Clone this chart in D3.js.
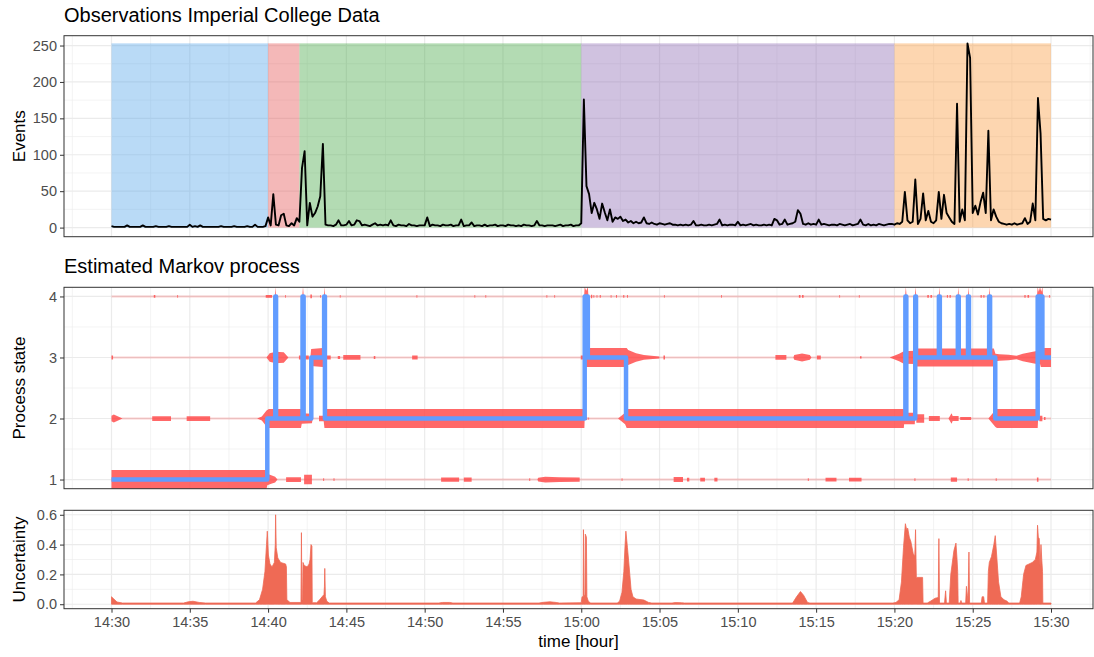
<!DOCTYPE html>
<html>
<head>
<meta charset="utf-8">
<script src="https://cdn.jsdelivr.net/npm/d3@7"></script>
<style>
  html, body { margin: 0; padding: 0; background: #ffffff; }
  svg { display: block; font-family: "Liberation Sans", Arial, Helvetica, sans-serif; }
</style>
</head>
<body>
<svg id="chart" width="1094" height="657"></svg>
<script>
// ---------------------------------------------------------------
// Session clock and axis labels
// ---------------------------------------------------------------
const sessionStart = "14:30";
const timeTickLabels = ["14:30","14:35","14:40","14:45","14:50","14:55","15:00",
                        "15:05","15:10","15:15","15:20","15:25","15:30"];
const eventTicks = [0, 50, 100, 150, 200, 250];
const stateTicks = [1, 2, 3, 4];
const uncertaintyTicks = [0, 0.2, 0.4, 0.6];

// Observation phases (clock boundaries)
const phaseBounds = ["14:30", "14:40", "14:42", "15:00", "15:20", "15:30"];

// Events counted in 10-second bins starting at 14:30
const eventBinSeconds = 10;
const eventCounts = [
  2,1,1,1,1,1,3,1,1,1,1,1,
  3,1,1,1,1,2,1,1,1,1,2,1,
  1,1,1,1,1,1,4,1,2,1,3,1,
  1,1,1,1,1,1,2,1,1,1,1,2,
  1,1,1,1,2,1,1,4,1,1,1,2,
  14,3,46,4,3,17,19,3,2,6,3,13,
  8,82,105,3,34,15,20,29,43,115,4,3,
  3,2,4,10,3,3,4,9,3,4,10,9,
  3,4,3,2,4,6,3,4,3,4,3,10,
  3,2,4,3,3,2,5,3,3,2,3,3,
  3,14,2,4,3,3,2,4,3,3,4,2,
  3,3,11,2,3,3,7,2,3,3,2,4,
  2,3,3,4,2,3,3,2,4,3,3,2,
  3,2,4,3,3,2,3,9,3,3,2,3,
  3,3,2,3,4,2,3,3,4,2,3,3,
  6,176,57,46,20,34,25,12,33,21,10,25,
  8,14,12,15,9,11,7,9,6,8,6,7,
  14,6,5,7,5,4,6,5,4,5,6,4,
  4,3,4,3,4,3,4,9,3,3,4,3,
  3,4,3,4,5,11,3,4,3,4,4,3,
  8,3,4,3,4,5,3,4,3,3,4,3,
  4,3,12,10,4,5,11,4,5,6,8,24,
  19,5,4,6,4,5,4,11,4,5,4,3,
  4,4,3,5,4,3,4,5,3,4,5,11,
  4,3,5,3,4,3,5,4,3,4,5,5,
  4,6,5,8,49,10,6,8,66,5,12,47,
  10,23,8,6,10,49,12,45,20,14,8,5,
  170,8,25,10,253,233,20,30,18,35,48,20,
  133,10,25,15,8,6,5,4,5,4,6,4,
  5,6,13,5,8,33,10,178,129,12,10,12,11
];

// Posterior state probabilities: [minutes after 14:30, probability]
const state1Prob = [
  [0,1],[9.9,1],[9.95,0.6],[10.2,0.45],[10.45,0.3],[10.6,0],
  [11.15,0],[11.15,0.25],[12.1,0.25],[12.1,0],
  [12.3,0],[12.3,0.5],[12.8,0.5],[12.8,0],
  [13.52,0],[13.52,0.15],[13.58,0.15],[13.58,0],
  [14.18,0],[14.18,0.15],[14.24,0.15],[14.24,0],
  [21.05,0],[21.05,0.22],[22.2,0.22],[22.2,0],
  [22.5,0],[22.5,0.22],[23.0,0.22],[23.0,0],
  [26.68,0],[26.68,0.15],[26.74,0.15],[26.74,0],
  [27.2,0],[27.25,0.2],[27.7,0.3],[28.6,0.25],[29.9,0.22],[29.9,0],
  [32.58,0],[32.58,0.15],[32.63,0.15],[32.63,0],
  [35.9,0],[35.9,0.27],[36.5,0.27],[36.5,0],
  [36.75,0],[36.75,0.2],[36.9,0.2],[36.9,0],
  [37.6,0],[37.6,0.2],[37.9,0.2],[37.9,0],
  [38.5,0],[38.5,0.2],[38.7,0.2],[38.7,0],
  [44.47,0],[44.47,0.15],[44.53,0.15],[44.53,0],
  [45.6,0],[45.6,0.2],[46.3,0.2],[46.3,0],
  [47.1,0],[47.1,0.2],[47.9,0.2],[47.9,0],
  [51.28,0],[51.28,0.15],[51.34,0.15],[51.34,0],
  [53.6,0],[53.6,0.22],[54.0,0.22],[54.0,0],
  [54.68,0],[54.68,0.15],[54.74,0.15],[54.74,0],
  [56.47,0],[56.47,0.15],[56.53,0.15],[56.53,0],
  [59.1,0],[59.1,0.22],[59.2,0.22],[59.2,0],[60,0]
];
const state2Prob = [
  [0,0.3],[0.15,0.42],[0.7,0],
  [2.6,0],[2.6,0.25],[3.8,0.25],[3.8,0],
  [4.8,0],[4.8,0.25],[6.3,0.25],[6.3,0],
  [9.3,0],[9.6,0.2],[9.9,0.85],[10.05,1],[12.1,1],[12.15,0.55],[12.8,0.5],[12.85,0],
  [13.25,0],[13.25,0.3],[13.55,0.3],[13.6,1],[30.2,1],[30.22,0],
  [30.3,0],[30.3,0.15],[30.38,0.15],[30.38,0],
  [30.45,0],[30.45,0.12],[30.5,0.12],[30.5,0],
  [32.35,0],[32.8,0.6],[32.9,1],[50.6,1],[50.62,0.6],[51.3,0.6],[51.32,0],
  [51.4,0],[51.4,0.45],[51.9,0.45],[51.9,0],
  [52.2,0],[52.2,0.27],[52.9,0.27],[52.9,0],
  [53.45,0],[53.65,0.55],[53.72,0.27],[54.1,0.27],[54.1,0],
  [54.2,0],[54.2,0.15],[54.9,0.15],[54.9,0],
  [56.0,0],[56.45,0.9],[56.55,1],[59.15,1],[59.18,0],
  [59.25,0],[59.25,0.3],[59.45,0.3],[59.45,0],
  [59.55,0],[59.55,0.15],[59.65,0.15],[59.65,0],[60,0]
];
const state3Prob = [
  [0,0.2],[0.1,0.2],[0.1,0],
  [9.9,0],[10.1,0.45],[10.5,0.6],[11.0,0.55],[11.3,0],
  [11.97,0],[11.97,0.2],[12.6,0.2],[12.6,0],
  [12.7,0],[12.75,0.9],[13.5,1],[13.6,0.6],[13.7,0.2],[14.0,0.2],[14.0,0],
  [14.45,0],[14.45,0.15],[14.6,0.15],[14.6,0],
  [14.8,0],[14.8,0.25],[15.9,0.25],[15.9,0],
  [16.75,0],[16.75,0.15],[16.85,0.15],[16.85,0],
  [19.2,0],[19.2,0.22],[19.55,0.22],[19.55,0],
  [29.97,0],[29.97,0.2],[30.15,0.2],[30.2,1],[32.9,1],[33.0,0.8],[33.5,0.45],[34.0,0.25],[34.97,0.1],[35.0,0],
  [35.25,0],[35.25,0.2],[35.35,0.2],[35.35,0],
  [42.4,0],[42.4,0.25],[43.1,0.25],[43.1,0],
  [43.55,0],[43.6,0.25],[44.1,0.42],[44.6,0.25],[44.7,0],
  [45.05,0],[45.05,0.2],[45.3,0.2],[45.3,0],
  [47.8,0],[47.8,0.12],[47.9,0.12],[47.9,0],
  [49.7,0],[50.3,0.4],[50.6,0.65],[51.35,0.7],[51.45,0.95],[56.35,0.95],[56.45,0.4],
  [56.7,0.35],[57.3,0.3],[57.8,0.18],[58.2,0.4],[59.0,0.65],[59.3,0.7],[59.35,1],[60,1]
];
const state4Prob = [
  [0,0],
  [2.7,0],[2.7,0.15],[2.8,0.15],[2.8,0],
  [4.2,0],[4.2,0.15],[4.25,0.15],[4.25,0],
  [9.85,0],[9.85,0.15],[10.25,0.15],[10.25,0],
  [10.44,0],[10.48,1],[10.52,0],
  [11.08,0],[11.08,0.15],[11.13,0.15],[11.13,0],
  [12.18,0],[12.23,1],[12.28,0],
  [12.7,0],[12.7,0.2],[12.8,0.2],[12.8,0],
  [13.33,0],[13.33,0.15],[13.38,0.15],[13.38,0],
  [13.56,0],[13.6,1],[13.64,0],
  [14.58,0],[14.58,0.15],[14.63,0.15],[14.63,0],
  [19.48,0],[19.48,0.15],[19.53,0.15],[19.53,0],
  [23.18,0],[23.18,0.15],[23.23,0.15],[23.23,0],
  [23.88,0],[23.88,0.15],[23.93,0.15],[23.93,0],
  [27.78,0],[27.78,0.15],[27.83,0.15],[27.83,0],
  [28.28,0],[28.28,0.15],[28.33,0.15],[28.33,0],
  [30.18,0],[30.22,1],[30.32,0.6],[30.42,1],[30.46,0],
  [30.62,0],[30.62,0.18],[30.7,0.18],[30.7,0],
  [30.78,0],[30.78,0.15],[30.83,0.15],[30.83,0],
  [30.98,0],[30.98,0.15],[31.03,0.15],[31.03,0],
  [31.18,0],[31.18,0.15],[31.25,0.15],[31.25,0],
  [31.88,0],[31.88,0.15],[31.93,0.15],[31.93,0],
  [32.22,0],[32.22,0.15],[32.28,0.15],[32.28,0],
  [32.68,0],[32.68,0.15],[32.75,0.15],[32.75,0],
  [32.92,0],[32.92,0.15],[32.98,0.15],[32.98,0],
  [35.28,0],[35.28,0.15],[35.33,0.15],[35.33,0],
  [38.93,0],[38.93,0.15],[38.98,0.15],[38.98,0],
  [43.9,0],[43.9,0.15],[44.0,0.15],[44.0,0],
  [44.1,0],[44.1,0.15],[44.2,0.15],[44.2,0],
  [46.48,0],[46.48,0.15],[46.53,0.15],[46.53,0],
  [47.73,0],[47.73,0.15],[47.78,0.15],[47.78,0],
  [50.68,0],[50.73,1],[50.78,0],
  [51.31,0],[51.35,1],[51.4,0],
  [52.1,0],[52.1,0.15],[52.2,0.15],[52.2,0],
  [52.3,0],[52.3,0.15],[52.4,0.15],[52.4,0],
  [52.83,0],[52.87,1],[52.91,0],
  [53.35,0],[53.35,0.15],[53.42,0.15],[53.42,0],
  [53.52,0],[53.52,0.15],[53.6,0.15],[53.6,0],
  [54.04,0],[54.08,1],[54.12,0],
  [54.69,0],[54.73,1],[54.77,0],
  [55.5,0],[55.5,0.15],[55.58,0.15],[55.58,0],
  [55.68,0],[55.68,0.15],[55.75,0.15],[55.75,0],
  [56.04,0],[56.08,1],[56.12,0],
  [58.3,0],[58.3,0.15],[58.38,0.15],[58.38,0],
  [58.5,0],[58.5,0.15],[58.6,0.15],[58.6,0],
  [59.1,0],[59.15,1],[59.22,0.5],[59.3,1],[59.38,0.5],[59.45,1],[59.5,0],
  [59.88,0],[59.88,0.15],[59.93,0.15],[59.93,0],
  [60,0]
];
const stateProbs = [state1Prob, state2Prob, state3Prob, state4Prob];

// Most likely state path: state entered at each change time (minutes after 14:30)
const pathMinutes = [0, 9.95, 10.46, 10.51, 12.2, 12.27, 12.76, 13.58, 13.63, 30.22, 30.42, 32.86,
                     50.7, 50.76, 51.33, 51.38, 52.84, 52.9, 54.05, 54.11, 54.7, 54.76, 56.05, 56.11,
                     56.44, 59.15, 59.27, 59.33, 59.45, 60];
const pathStates  = [1, 2, 4, 2, 4, 2, 3, 4, 2, 4, 3, 2,
                     4, 2, 4, 3, 4, 3, 4, 3, 4, 3, 4, 3,
                     2, 4, 3, 4, 3, 3];

// State uncertainty: [minutes after 14:30, value]
const uncertainty = [
  [0,0.05],[0.15,0.035],[0.35,0.015],[0.7,0.008],
  [4.6,0.008],[4.9,0.016],[5.2,0.02],[5.6,0.012],[6.0,0.008],
  [9.2,0.008],[9.45,0.03],[9.65,0.1],[9.8,0.22],[9.9,0.4],[9.95,0.49],[10.02,0.33],[10.12,0.27],
  [10.25,0.25],[10.4,0.28],[10.46,0.4],[10.48,0.6],[10.52,0.38],[10.62,0.31],[10.8,0.28],
  [11.12,0.27],[11.17,0.25],[11.2,0.03],[11.4,0.012],[12.1,0.012],
  [12.13,0.48],[12.16,0.03],[12.2,0.03],[12.23,0.28],[12.3,0.26],[12.5,0.25],[12.62,0.27],
  [12.68,0.3],[12.74,0.4],[12.8,0.39],[12.82,0.01],
  [13.1,0.01],[13.25,0.025],[13.45,0.05],[13.57,0.065],[13.6,0.12],[13.62,0.24],[13.66,0.05],
  [13.75,0.02],[13.9,0.008],
  [20.9,0.008],[21.15,0.012],[21.6,0.012],[21.8,0.008],
  [27.3,0.008],[27.6,0.013],[28.0,0.016],[28.4,0.012],[28.6,0.008],
  [30.0,0.01],[30.05,0.05],[30.12,0.05],[30.14,0.5],[30.18,0.06],[30.24,0.06],[30.26,0.47],
  [30.33,0.45],[30.36,0.05],[30.45,0.02],[30.6,0.008],
  [32.3,0.008],[32.45,0.02],[32.6,0.08],[32.72,0.22],[32.8,0.4],[32.85,0.49],[32.95,0.38],
  [33.06,0.25],[33.18,0.1],[33.3,0.05],[33.5,0.035],[34.0,0.028],[34.3,0.012],[34.5,0.008],
  [35.8,0.008],[36.0,0.011],[36.4,0.01],[36.6,0.008],
  [43.5,0.008],[43.75,0.05],[44.0,0.085],[44.2,0.06],[44.45,0.012],[44.6,0.008],
  [49.9,0.008],[50.1,0.012],[50.3,0.03],[50.45,0.15],[50.58,0.38],[50.7,0.54],[50.78,0.5],
  [50.85,0.51],[50.95,0.45],[51.05,0.42],[51.2,0.34],[51.3,0.32],[51.35,0.5],[51.4,0.18],
  [51.8,0.18],[51.83,0.008],
  [52.1,0.008],[52.3,0.02],[52.6,0.04],[52.8,0.045],[52.84,0.44],[52.88,0.008],
  [53.2,0.008],[53.27,0.09],[53.32,0.008],
  [53.5,0.008],[53.6,0.2],[53.8,0.36],[53.93,0.41],[54.0,0.3],[54.04,0.22],[54.07,0.008],
  [54.2,0.008],[54.25,0.025],[54.3,0.008],
  [54.55,0.008],[54.6,0.12],[54.66,0.06],[54.7,0.008],[54.76,0.35],[54.8,0.008],
  [55.55,0.008],[55.6,0.05],[55.7,0.05],[55.75,0.008],
  [55.95,0.008],[56.0,0.22],[56.06,0.28],[56.2,0.32],[56.35,0.4],[56.44,0.46],[56.55,0.3],
  [56.65,0.15],[56.8,0.05],[57.0,0.03],[57.2,0.02],[57.3,0.008],
  [58.0,0.008],[58.1,0.05],[58.25,0.2],[58.4,0.26],[58.6,0.27],[58.8,0.28],[59.0,0.3],
  [59.1,0.35],[59.14,0.53],[59.19,0.45],[59.25,0.44],[59.3,0.25],[59.36,0.4],[59.41,0.3],
  [59.46,0.22],[59.48,0.008],[60,0.008]
];

// ---------------------------------------------------------------
// Styling
// ---------------------------------------------------------------
const phaseColors = ["#50a2e8", "#e44e4e", "#41a541", "#8a66b2", "#fa983a"];
const phaseOpacity = 0.4;
const bandColor = "#ff4d4d";
const pathColor = "#619cff";
const uncertaintyColor = "#ef6a55";
const gridColor = "#ebebeb";
const borderColor = "#333333";
const tickTextColor = "#4d4d4d";
const bandHalfWidth = 0.155;   // in state units at probability 1

// ---------------------------------------------------------------
// Layout
// ---------------------------------------------------------------
const svg = d3.select("#chart");
const plotLeft = 64, plotRight = 1093;
const toMinutes = s => {
  const [h, m] = s.split(":").map(Number);
  const [h0, m0] = sessionStart.split(":").map(Number);
  return (h * 60 + m) - (h0 * 60 + m0);
};
const tickMinutes = timeTickLabels.map(toMinutes);
const x = d3.scaleLinear().domain([0, 60]).range([111.5, 1051]);

const xMinor = [];
for (let i = 0; i <= tickMinutes.length; i++) {
  const a = i === 0 ? tickMinutes[0] - 5 : tickMinutes[i - 1];
  const b = i === tickMinutes.length ? tickMinutes[i - 1] + 5 : tickMinutes[i];
  const m = (a + b) / 2;
  if (x(m) > plotLeft && x(m) < plotRight) xMinor.push(m);
}

const panels = {
  events: { top: 35.7, bottom: 236.7, domain: [-12.5, 263.5], ticks: eventTicks, fmt: d3.format("d"), label: "Events" },
  states: { top: 287.3, bottom: 488.7, domain: [0.85, 4.15], ticks: stateTicks, fmt: d3.format("d"), label: "Process state" },
  unc:    { top: 510.3, bottom: 608.7, domain: [-0.03, 0.63], ticks: uncertaintyTicks, fmt: d3.format(".1f"), label: "Uncertainty" }
};

const defs = svg.append("defs");

function setupPanel(key) {
  const p = panels[key];
  p.y = d3.scaleLinear().domain(p.domain).range([p.bottom, p.top]);
  defs.append("clipPath").attr("id", "clip-" + key)
    .append("rect")
    .attr("x", plotLeft).attr("y", p.top)
    .attr("width", plotRight - plotLeft).attr("height", p.bottom - p.top);

  const g = svg.append("g");
  g.append("rect")
    .attr("x", plotLeft).attr("y", p.top)
    .attr("width", plotRight - plotLeft).attr("height", p.bottom - p.top)
    .attr("fill", "#ffffff");

  // minor grid
  const yMinor = d3.pairs(p.ticks).map(([a, b]) => (a + b) / 2);
  g.selectAll(".yminor").data(yMinor).join("line")
    .attr("x1", plotLeft).attr("x2", plotRight)
    .attr("y1", d => p.y(d)).attr("y2", d => p.y(d))
    .attr("stroke", gridColor).attr("stroke-width", 0.6);
  g.selectAll(".xminor").data(xMinor).join("line")
    .attr("x1", d => x(d)).attr("x2", d => x(d))
    .attr("y1", p.top).attr("y2", p.bottom)
    .attr("stroke", gridColor).attr("stroke-width", 0.6);
  // major grid
  g.selectAll(".ymajor").data(p.ticks).join("line")
    .attr("x1", plotLeft).attr("x2", plotRight)
    .attr("y1", d => p.y(d)).attr("y2", d => p.y(d))
    .attr("stroke", gridColor).attr("stroke-width", 1.2);
  g.selectAll(".xmajor").data(tickMinutes).join("line")
    .attr("x1", d => x(d)).attr("x2", d => x(d))
    .attr("y1", p.top).attr("y2", p.bottom)
    .attr("stroke", gridColor).attr("stroke-width", 1.2);

  p.plot = g.append("g").attr("clip-path", `url(#clip-${key})`);
  return p;
}

function finishPanel(key) {
  const p = panels[key];
  const frame = svg.append("g");
  frame.append("rect")
    .attr("x", plotLeft).attr("y", p.top)
    .attr("width", plotRight - plotLeft).attr("height", p.bottom - p.top)
    .attr("fill", "none").attr("stroke", borderColor).attr("stroke-width", 1);

  const ax = frame.append("g")
    .attr("transform", `translate(${plotLeft},0)`)
    .call(d3.axisLeft(p.y).tickValues(p.ticks).tickFormat(p.fmt).tickSize(4).tickPadding(3));
  ax.select(".domain").remove();
  ax.selectAll(".tick line").attr("stroke", borderColor).attr("stroke-width", 1);
  ax.selectAll(".tick text")
    .attr("fill", tickTextColor).style("font-size", "14.5px")
    .style("font-family", '"Liberation Sans", Arial, sans-serif');

  frame.append("text")
    .attr("transform", `translate(25,${(p.top + p.bottom) / 2}) rotate(-90)`)
    .attr("text-anchor", "middle")
    .style("font-size", "17px").attr("fill", "#000")
    .text(p.label);
}

// ---------------------------------------------------------------
// Panel 1: observed events
// ---------------------------------------------------------------
const pe = setupPanel("events");
const maxEvents = d3.max(eventCounts);
const phaseMinutes = phaseBounds.map(toMinutes);
pe.plot.selectAll(".phase").data(d3.pairs(phaseMinutes)).join("rect")
  .attr("x", d => x(d[0]))
  .attr("width", d => x(d[1]) - x(d[0]))
  .attr("y", pe.y(maxEvents))
  .attr("height", pe.y(0) - pe.y(maxEvents))
  .attr("fill", (d, i) => phaseColors[i])
  .attr("fill-opacity", phaseOpacity);

const eventLine = d3.line()
  .x((d, i) => x(i * eventBinSeconds / 60))
  .y(d => pe.y(d));
pe.plot.append("path")
  .datum(eventCounts)
  .attr("d", eventLine)
  .attr("fill", "none")
  .attr("stroke", "#000")
  .attr("stroke-width", 1.9)
  .attr("stroke-linejoin", "round");
finishPanel("events");

// ---------------------------------------------------------------
// Panel 2: estimated Markov process
// ---------------------------------------------------------------
const ps = setupPanel("states");
ps.plot.selectAll(".stateline").data(stateTicks).join("line")
  .attr("x1", x(0)).attr("x2", x(60))
  .attr("y1", d => ps.y(d)).attr("y2", d => ps.y(d))
  .attr("stroke", "rgb(240,80,80)").attr("stroke-opacity", 0.28)
  .attr("stroke-width", 2);

stateProbs.forEach((probs, i) => {
  const k = stateTicks[i];
  const band = d3.area()
    .x(d => x(d[0]))
    .y0(d => ps.y(k - d[1] * bandHalfWidth))
    .y1(d => ps.y(k + d[1] * bandHalfWidth));
  ps.plot.append("path")
    .datum(probs)
    .attr("d", band)
    .attr("fill", bandColor)
    .attr("fill-opacity", 0.85);
});

const pathLine = d3.line()
  .curve(d3.curveStepAfter)
  .x(d => x(d[0]))
  .y(d => ps.y(d[1]));
ps.plot.append("path")
  .datum(d3.zip(pathMinutes, pathStates))
  .attr("d", pathLine)
  .attr("fill", "none")
  .attr("stroke", pathColor)
  .attr("stroke-width", 4.5)
  .attr("stroke-linejoin", "round");
finishPanel("states");

// ---------------------------------------------------------------
// Panel 3: uncertainty
// ---------------------------------------------------------------
const pu = setupPanel("unc");
const uncArea = d3.area()
  .x(d => x(d[0]))
  .y0(pu.y(0))
  .y1(d => pu.y(d[1]));
pu.plot.append("path")
  .datum(uncertainty)
  .attr("d", uncArea)
  .attr("fill", uncertaintyColor)
  .attr("stroke", uncertaintyColor)
  .attr("stroke-width", 0.8)
  .attr("stroke-linejoin", "round");
finishPanel("unc");

// time axis under the last panel
const xAxis = svg.append("g")
  .attr("transform", `translate(0,${pu.bottom})`)
  .call(d3.axisBottom(x).tickValues(tickMinutes)
    .tickFormat((d, i) => timeTickLabels[i]).tickSize(4).tickPadding(4));
xAxis.select(".domain").remove();
xAxis.selectAll(".tick line").attr("stroke", borderColor).attr("stroke-width", 1);
xAxis.selectAll(".tick text")
  .attr("fill", tickTextColor).style("font-size", "14.5px")
  .style("font-family", '"Liberation Sans", Arial, sans-serif');

svg.append("text")
  .attr("x", (plotLeft + plotRight) / 2).attr("y", 647)
  .attr("text-anchor", "middle")
  .style("font-size", "17px").attr("fill", "#000")
  .text("time [hour]");

// ---------------------------------------------------------------
// Titles
// ---------------------------------------------------------------
svg.append("text")
  .attr("x", 64).attr("y", 22)
  .style("font-size", "20px").attr("fill", "#000")
  .text("Observations Imperial College Data");
svg.append("text")
  .attr("x", 64).attr("y", 273)
  .style("font-size", "20px").attr("fill", "#000")
  .text("Estimated Markov process");
</script>
</body>
</html>
